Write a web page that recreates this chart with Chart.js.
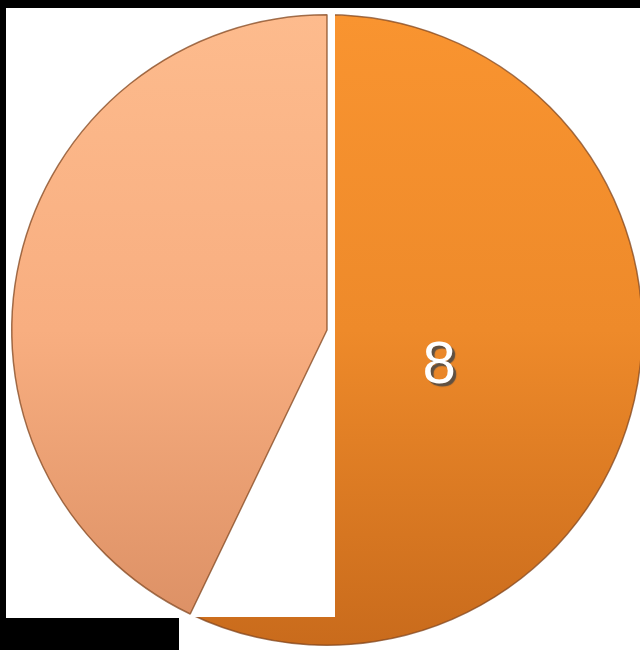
<!DOCTYPE html>
<html>
<head>
<meta charset="utf-8">
<script src="https://cdn.jsdelivr.net/npm/chart.js@4/dist/chart.umd.min.js"></script>
<style>
  html, body { margin: 0; padding: 0; background: #fff; overflow: hidden; }
  #wrap { position: absolute; left: 0; top: 0; width: 656px; height: 650px; }
</style>
</head>
<body>
<div id="wrap"><canvas id="pie" width="656" height="650"></canvas></div>
<script>
document.addEventListener("DOMContentLoaded", () => {

  const labels = ["A", "B"];
  const values = [8, 6];
  const shownLabels = ["8", ""];

  // top / bottom shades for each slice
  const topColors = ["#F99430", "#FDBB8D"];
  const bottomColors = ["#C96B1C", "#DA8E63"];

  function sliceFill(ctx) {
    const area = ctx.chart.chartArea;
    const i = ctx.dataIndex;
    if (!area) return topColors[i];
    const g = ctx.chart.ctx.createLinearGradient(0, area.top, 0, area.bottom);
    g.addColorStop(0, topColors[i]);
    g.addColorStop(0.5, i === 0 ? "#EE8A2A" : "#F8AE80");
    g.addColorStop(1, bottomColors[i]);
    return g;
  }

  // black frame strips + the white panel that sits over the big slice
  const backdrop = {
    id: "backdrop",
    beforeDraw(chart) {
      const c = chart.ctx;
      c.save();
      c.fillStyle = "#fff";
      c.fillRect(0, 0, chart.width, chart.height);
      c.fillStyle = "#000";
      c.fillRect(0, 0, chart.width, 8);
      c.fillRect(0, 0, 6, 618);
      c.fillRect(0, 618, 179, chart.height - 618);
      c.restore();
    },
    afterDatasetsDraw(chart) {
      const c = chart.ctx;
      const meta = chart.getDatasetMeta(0);
      c.save();
      c.fillStyle = "#fff";
      c.fillRect(6, 8, 329, 609);
      c.restore();

      // small slice goes back on top of the panel
      meta.data[1].draw(c);

      // value label
      meta.data.forEach((arc, i) => {
        if (!shownLabels[i]) return;
        const p = arc.getProps(["x", "y", "startAngle", "endAngle", "outerRadius"], true);
        const mid = (p.startAngle + p.endAngle) / 2;
        const r = p.outerRadius * 0.365;
        const x = p.x + Math.cos(mid) * r;
        const y = p.y + Math.sin(mid) * r + 11;
        c.save();
        c.font = "60px 'Liberation Sans', Arial, sans-serif";
        c.textAlign = "center";
        c.textBaseline = "middle";
        c.shadowColor = "rgba(70,70,70,0.85)";
        c.shadowOffsetX = 3;
        c.shadowOffsetY = 3;
        c.shadowBlur = 1;
        c.fillStyle = "#fff";
        c.fillText(shownLabels[i], x, y);
        c.restore();
      });
    }
  };

  new Chart(document.getElementById("pie"), {
    type: "pie",
    data: {
      labels: labels,
      datasets: [{
        data: values,
        backgroundColor: sliceFill,
        borderColor: "rgba(130,70,30,0.75)",
        borderWidth: 1.5
      }]
    },
    options: {
      responsive: false,
      animation: false,
      layout: { padding: { left: 11, right: 13, top: 14, bottom: 4 } },
      plugins: {
        legend: { display: false },
        tooltip: { enabled: false }
      }
    },
    plugins: [backdrop]
  });
});
</script>
</body>
</html>
